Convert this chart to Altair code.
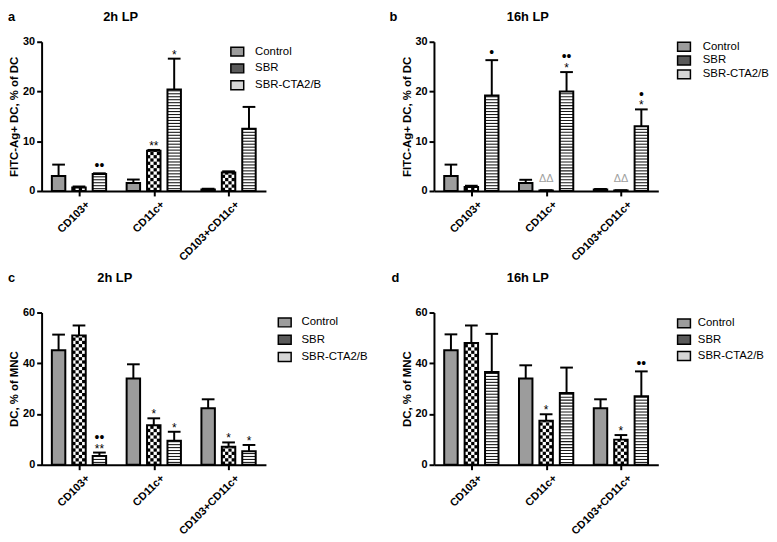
import math
import altair as alt
import pandas as pd

categories = ["CD103+", "CD11c+", "CD103+CD11c+"]
series = ["Control", "SBR", "SBR-CTA2/B"]

# Panel a: FITC-Ag+ DC (% of DC), 2h LP  (mean, upper SEM)
a_control = [3.0, 1.6, 0.3]
a_control_sem = [2.3, 0.7, 0.15]
a_sbr = [0.7, 8.1, 3.7]
a_sbr_sem = [0.2, 0.15, 0.25]
a_cta = [3.4, 20.4, 12.5]
a_cta_sem = [0.15, 6.2, 4.4]
a_notes = [("CD103+", "SBR-CTA2/B", "••", 0), ("CD11c+", "SBR", "**", 0),
           ("CD11c+", "SBR-CTA2/B", "*", 0)]

# Panel b: FITC-Ag+ DC (% of DC), 16h LP
b_control = [3.0, 1.6, 0.3]
b_control_sem = [2.3, 0.65, 0.1]
b_sbr = [0.8, 0.1, 0.1]
b_sbr_sem = [0.25, 0.05, 0.05]
b_cta = [19.2, 20.0, 13.0]
b_cta_sem = [7.1, 3.9, 3.4]
b_notes = [("CD103+", "SBR-CTA2/B", "•", 0), ("CD11c+", "SBR", "ΔΔ", 0),
           ("CD11c+", "SBR-CTA2/B", "*", 0), ("CD11c+", "SBR-CTA2/B", "••", 1),
           ("CD103+CD11c+", "SBR", "ΔΔ", 0), ("CD103+CD11c+", "SBR-CTA2/B", "*", 0),
           ("CD103+CD11c+", "SBR-CTA2/B", "•", 1)]

# Panel c: DC (% of MNC), 2h LP
c_control = [45.1, 34.0, 22.3]
c_control_sem = [6.2, 5.6, 3.5]
c_sbr = [51.0, 15.6, 7.1]
c_sbr_sem = [3.9, 2.7, 1.7]
c_cta = [3.5, 9.5, 5.3]
c_cta_sem = [1.3, 3.5, 2.5]
c_notes = [("CD103+", "SBR-CTA2/B", "**", 0), ("CD103+", "SBR-CTA2/B", "••", 1),
           ("CD11c+", "SBR", "*", 0), ("CD11c+", "SBR-CTA2/B", "*", 0),
           ("CD103+CD11c+", "SBR", "*", 0), ("CD103+CD11c+", "SBR-CTA2/B", "*", 0)]

# Panel d: DC (% of MNC), 16h LP
d_control = [45.1, 34.0, 22.3]
d_control_sem = [6.3, 5.2, 3.5]
d_sbr = [48.0, 17.3, 9.9]
d_sbr_sem = [6.9, 2.6, 1.8]
d_cta = [36.6, 28.3, 27.0]
d_cta_sem = [15.0, 10.0, 9.8]
d_notes = [("CD11c+", "SBR", "*", 0), ("CD103+CD11c+", "SBR", "*", 0),
           ("CD103+CD11c+", "SBR-CTA2/B", "••", 0)]

panel_letters = ["a", "b", "c", "d"]
panel_titles = ["2h LP", "16h LP", "2h LP", "16h LP"]
y_titles = ["FITC-Ag+ DC, % of DC", "FITC-Ag+ DC, % of DC", "DC, % of MNC", "DC, % of MNC"]
y_max = [30, 30, 60, 60]
y_ticks = [[0, 10, 20, 30], [0, 10, 20, 30], [0, 20, 40, 60], [0, 20, 40, 60]]

# ---- style / layout ----
FONT = "Liberation Sans"
W = 227
HEIGHTS = [151, 151, 154, 154]
GAP = 0.273      # bar spacing inside a group (group units)
HALF = 0.09      # half bar width
CAP = 0.085      # half cap width
CELL_PX = 3.3
STRIPE_PX = 3.0
STRIPE_DARK_PX = 1.1
FILLS = ["#9c9c9c", "#5a5a5a", "#d6d6d6"]
LEGEND_RECT = "M-1.3,-0.9L1.3,-0.9L1.3,0.9L-1.3,0.9Z"
legend_pos = [dict(x=192, y=4, pad=1, off=12), dict(x=247, y=-1, pad=-3, off=13),
              dict(x=240, y=4, pad=1.5, off=11), dict(x=247, y=5, pad=0.5, off=8)]
title_x = [80, 95, 74, 95]
title_y = [-25, -25, -35, -35]
letter_x = [-34, -45, -34, -43]


def build_bars(vals, sems):
    rows = []
    for si, s in enumerate(series):
        for gi, c in enumerate(categories):
            v, e = vals[si][gi], sems[si][gi]
            xc = gi + (si - 1) * GAP
            rows.append(dict(category=c, series=s, value=v, sem=e, top=v + e, zero=0.0,
                             xc=xc, x1=xc - HALF, x2=xc + HALF, c1=xc - CAP, c2=xc + CAP))
    return pd.DataFrame(rows)


def build_checker(df, ymax, h):
    cw = CELL_PX * 3.0 / W
    ch = CELL_PX * ymax / h
    rows = []
    for _, r in df[df.series == "SBR"].iterrows():
        nr = math.ceil(r.value / ch)
        nc = math.ceil((r.x2 - r.x1) / cw - 1e-9)
        for i in range(nr):
            for j in range(nc):
                if (i + j) % 2 == 0:
                    rows.append(dict(px1=r.x1 + j * cw, px2=min(r.x1 + (j + 1) * cw, r.x2),
                                     py1=i * ch, py2=min((i + 1) * ch, r.value)))
    return pd.DataFrame(rows)


def build_stripes(df, ymax, h):
    per = STRIPE_PX * ymax / h
    dark = STRIPE_DARK_PX * ymax / h
    rows = []
    for _, r in df[df.series == "SBR-CTA2/B"].iterrows():
        k = 0
        while per * (k + 0.6) + dark < r.value:
            y0 = per * (k + 0.6)
            rows.append(dict(px1=r.x1, px2=r.x2, py1=y0, py2=y0 + dark))
            k += 1
    return pd.DataFrame(rows)


def build_notes(df, notes):
    rows = []
    for cat, s, txt, row in notes:
        r = df[(df.category == cat) & (df.series == s)].iloc[0]
        rows.append(dict(xc=r.xc, top=r.top, label=txt, row=row))
    return pd.DataFrame(rows)


def panel(i, vals, sems, notes):
    ymax = y_max[i]
    h = HEIGHTS[i]
    df = build_bars(vals, sems)
    xs = alt.Scale(domain=[-0.5, 2.5], nice=False, zero=False)
    ys = alt.Scale(domain=[0, ymax], nice=False)
    x_axis = alt.Axis(values=[0, 1, 2], labels=False, title=None, grid=False, tickSize=5)
    y_axis = alt.Axis(values=y_ticks[i], title=y_titles[i], grid=False, labelFontSize=11,
                      labelFontWeight="bold", titleFontSize=11.5, titleFontWeight="bold",
                      tickSize=5, titlePadding=3, labelFlush=False)

    def X(f):
        return alt.X(f, type="quantitative", scale=xs, axis=x_axis)

    def Y(f):
        return alt.Y(f, type="quantitative", scale=ys, axis=y_axis)

    lp = legend_pos[i]
    base = alt.Chart(df).mark_rect().encode(
        x=X("x1"), x2="x2", y=Y("zero"), y2="value",
        fill=alt.Fill("series:N", scale=alt.Scale(domain=series, range=FILLS),
                      legend=alt.Legend(title=None, orient="none", legendX=lp["x"],
                                        legendY=lp["y"], rowPadding=lp["pad"],
                                        labelOffset=lp["off"], labelFontSize=11.5,
                                        labelFont=FONT, symbolType=LEGEND_RECT,
                                        symbolSize=100, symbolStrokeColor="black",
                                        symbolStrokeWidth=1.5)),
    )
    white = alt.Chart(df).transform_filter("datum.series != 'Control'").mark_rect(
        fill="white").encode(x=X("x1"), x2="x2", y=Y("zero"), y2="value")
    checker = alt.Chart(build_checker(df, ymax, h)).mark_rect(fill="black").encode(
        x=X("px1"), x2="px2", y=Y("py1"), y2="py2")
    stripes = alt.Chart(build_stripes(df, ymax, h)).mark_rect(fill="#1a1a1a").encode(
        x=X("px1"), x2="px2", y=Y("py1"), y2="py2")
    outline = alt.Chart(df).mark_rect(fillOpacity=0, stroke="black", strokeWidth=2).encode(
        x=X("x1"), x2="x2", y=Y("zero"), y2="value")
    err = alt.Chart(df).mark_rule(color="black", strokeWidth=2).encode(
        x=X("xc"), y=Y("value"), y2="top")
    cap = alt.Chart(df).mark_rule(color="black", strokeWidth=2).encode(
        x=X("c1"), x2="c2", y=Y("top"))
    nd = build_notes(df, notes)
    note_base = alt.Chart(nd).encode(x=X("xc"), y=Y("top"), text="label:N")
    stars = note_base.transform_filter("indexof(datum.label, '*') >= 0").mark_text(
        fontSize=12, font=FONT, baseline="middle", dy=-4, color="black")
    dots0 = note_base.transform_filter("indexof(datum.label, '•') >= 0 && datum.row == 0").mark_text(
        fontSize=14, font=FONT, baseline="middle", dy=-7, color="black")
    dots1 = note_base.transform_filter("indexof(datum.label, '•') >= 0 && datum.row == 1").mark_text(
        fontSize=14, font=FONT, baseline="middle", dy=-15, color="black")
    deltas = note_base.transform_filter("indexof(datum.label, 'Δ') >= 0").mark_text(
        fontSize=11, font=FONT, baseline="middle", dy=-11, color="#a0a0a0")
    cats = pd.DataFrame({"gx": list(range(len(categories))), "category": categories})
    xlabels = alt.Chart(cats).mark_text(
        angle=315, align="right", baseline="top", xOffset=5, fontSize=11,
        font=FONT, fontWeight="bold", color="black").encode(
        x=X("gx"), y=alt.value(h + 8), text="category:N")
    heads = pd.DataFrame({"letter": [panel_letters[i]], "title": [panel_titles[i]]})
    letter = alt.Chart(heads).mark_text(
        fontSize=13, font=FONT, fontWeight="bold", align="left", baseline="middle").encode(
        x=alt.value(letter_x[i]), y=alt.value(title_y[i]), text="letter:N")
    title = alt.Chart(heads).mark_text(
        fontSize=13, font=FONT, fontWeight="bold", align="center", baseline="middle").encode(
        x=alt.value(title_x[i]), y=alt.value(title_y[i]), text="title:N")
    return alt.layer(base, white, checker, stripes, outline, err, cap, stars, dots0, dots1,
                     deltas, xlabels, letter, title).properties(width=W, height=h)


pa = panel(0, [a_control, a_sbr, a_cta], [a_control_sem, a_sbr_sem, a_cta_sem], a_notes)
pb = panel(1, [b_control, b_sbr, b_cta], [b_control_sem, b_sbr_sem, b_cta_sem], b_notes)
pc = panel(2, [c_control, c_sbr, c_cta], [c_control_sem, c_sbr_sem, c_cta_sem], c_notes)
pd_ = panel(3, [d_control, d_sbr, d_cta], [d_control_sem, d_sbr_sem, d_cta_sem], d_notes)

chart = alt.concat(pa, pb, pc, pd_, columns=2, spacing={"row": 123, "column": 170},
                   bounds="flush").resolve_scale(fill="independent").properties(
    padding=0, background="white"
).configure_view(stroke=None).configure_axis(
    labelFont=FONT, titleFont=FONT, domainColor="black", domainWidth=2, tickColor="black",
    tickWidth=2, labelColor="black", titleColor="black", labelPadding=2
).configure_legend(labelColor="black")

chart.save("out.html", embed_options={"renderer": "svg", "actions": False})
